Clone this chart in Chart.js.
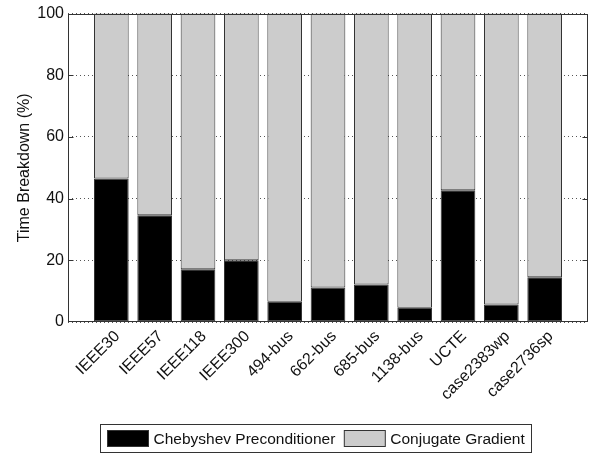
<!DOCTYPE html>
<html>
<head>
<meta charset="utf-8">
<script src="https://cdn.jsdelivr.net/npm/chart.js@4/dist/chart.umd.min.js"></script>
<style>
  html, body { margin: 0; padding: 0; background: #fff; }
  canvas { display: block; }
</style>
</head>
<body>
<canvas id="c" width="592" height="454"></canvas>
<script>
// Test systems on the x axis
const categories = ['IEEE30', 'IEEE57', 'IEEE118', 'IEEE300', '494-bus', '662-bus',
  '685-bus', '1138-bus', 'UCTE', 'case2383wp', 'case2736sp'];

// Share of solve time (%) spent in each stage
const chebyshevPct = [46.5, 34.6, 17.1, 20.0, 6.6, 11.2, 12.2, 4.6, 42.7, 5.7, 14.5];
const conjGradPct  = [53.5, 65.4, 82.9, 80.0, 93.4, 88.8, 87.8, 95.4, 57.3, 94.3, 85.5];

const yTicks = [0, 20, 40, 60, 80, 100];
const seriesNames = ['Chebyshev Preconditioner', 'Conjugate Gradient'];
const yTitle = 'Time Breakdown (%)';

const FONT = '"Liberation Sans", Arial, sans-serif';
const EDGE = '#333333';

// One empty slot on each side so the bars sit inside the x range like a [0, n+1] axis
const labels = ['', ...categories, ''];
const pad = arr => [null, ...arr, null];

// Box around the plot area plus inward tick marks on both vertical sides
const framePlugin = {
  id: 'frame',
  afterDatasetsDraw(chart) {
    const { ctx, chartArea: a, scales: { y } } = chart;
    ctx.save();
    ctx.strokeStyle = EDGE;
    ctx.lineWidth = 1;
    const L = Math.round(a.left) + 0.5, R = Math.round(a.right) - 0.5;
    const T = Math.round(a.top) + 0.5, B = Math.round(a.bottom) - 0.5;
    ctx.strokeRect(L, T, R - L, B - T);
    ctx.beginPath();
    yTicks.slice(1, -1).forEach(v => {
      const py = Math.round(y.getPixelForValue(v)) + 0.5;
      ctx.moveTo(L, py); ctx.lineTo(L + 5, py);
      ctx.moveTo(R, py); ctx.lineTo(R - 5, py);
    });
    ctx.stroke();
    ctx.restore();
  }
};

// Boxed legend centred under the plot
const boxLegendPlugin = {
  id: 'boxLegend',
  afterDraw(chart) {
    const { ctx } = chart;
    const ds = chart.data.datasets;
    ctx.save();
    ctx.font = '15.5px ' + FONT;
    const sw = 41, sh = 16, gap = 5, itemGap = 9, side = 7;
    const widths = ds.map(d => ctx.measureText(d.label).width);
    const total = side * 2 + ds.length * (sw + gap) + widths.reduce((s, w) => s + w, 0) + itemGap * (ds.length - 1);
    const cx = 316, top = 424.5, h = 28;
    let x = Math.round(cx - total / 2) + 0.5;
    ctx.strokeStyle = EDGE;
    ctx.lineWidth = 1;
    ctx.strokeRect(x, top, Math.round(total), h);
    x += side;
    const midY = top + h / 2;
    ds.forEach((d, i) => {
      ctx.fillStyle = d.backgroundColor;
      ctx.fillRect(x, midY - sh / 2, sw, sh);
      ctx.strokeRect(x, midY - sh / 2, sw, sh);
      x += sw + gap;
      ctx.fillStyle = '#111';
      ctx.textBaseline = 'middle';
      ctx.textAlign = 'left';
      ctx.fillText(d.label, x, midY + 1);
      x += widths[i] + itemGap;
    });
    ctx.restore();
  }
};

new Chart(document.getElementById('c'), {
  type: 'bar',
  data: {
    labels: labels,
    datasets: [
      {
        label: seriesNames[0],
        data: pad(chebyshevPct),
        backgroundColor: '#000000',
        borderColor: EDGE,
        borderWidth: 1,
        borderSkipped: false,
        categoryPercentage: 0.8,
        barPercentage: 1.0
      },
      {
        label: seriesNames[1],
        data: pad(conjGradPct),
        backgroundColor: '#cccccc',
        borderColor: EDGE,
        borderWidth: 1,
        borderSkipped: false,
        categoryPercentage: 0.8,
        barPercentage: 1.0
      }
    ]
  },
  options: {
    responsive: false,
    animation: false,
    layout: { padding: { top: 13, right: 4, bottom: 0, left: 0 } },
    plugins: {
      legend: { display: false },
      tooltip: { enabled: false }
    },
    scales: {
      x: {
        stacked: true,
        offset: false,
        grid: { display: false, drawTicks: false },
        border: { display: false },
        ticks: {
          autoSkip: false,
          minRotation: 45,
          maxRotation: 45,
          padding: 5,
          labelOffset: 6,
          color: '#111',
          font: { family: FONT, size: 16 }
        },
        afterFit(scale) {
          scale.height = 132;
          scale.paddingLeft = 0;
          scale.paddingRight = 0;
        }
      },
      y: {
        stacked: true,
        min: 0,
        max: 100,
        afterBuildTicks(scale) { scale.ticks = yTicks.map(v => ({ value: v })); },
        grid: {
          color: '#555555',
          lineWidth: 1,
          drawTicks: false,
          tickBorderDash: [1, 3]
        },
        border: { display: false, dash: [1, 3] },
        ticks: {
          padding: 4,
          color: '#111',
          font: { family: FONT, size: 16 }
        },
        title: {
          display: true,
          text: yTitle,
          color: '#111',
          font: { family: FONT, size: 16 },
          padding: { top: 15, bottom: 0 }
        },
        afterFit(scale) { scale.width = 68; }
      }
    }
  },
  plugins: [framePlugin, boxLegendPlugin]
});
</script>
</body>
</html>
